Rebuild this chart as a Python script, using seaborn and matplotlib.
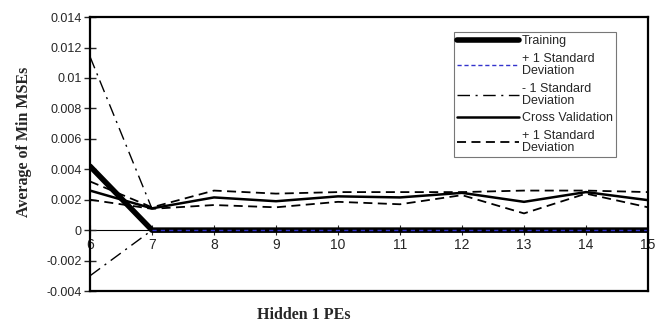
import numpy as np
import pandas as pd
import matplotlib
matplotlib.use("Agg")
import matplotlib.pyplot as plt
import seaborn as sns
from matplotlib.lines import Line2D

# Hidden 1 PEs
pes = [6, 7, 8, 9, 10, 11, 12, 13, 14, 15]

# Training and its +/- 1 std dev
training = [0.0042, 0, 0, 0, 0, 0, 0, 0, 0, 0]
train_plus = [np.nan, 0, 0, 0, 0, 0, 0, 0, 0, 0]
train_minus = [-0.0030, 0, 0, 0, 0, 0, 0, 0, 0, 0]
train_upper = [0.0114, 0.0014, np.nan, np.nan, np.nan, np.nan, np.nan, np.nan, np.nan, np.nan]

# Cross validation and its +/- 1 std dev
cv = [0.0026, 0.00143, 0.00215, 0.0019, 0.00222, 0.00215, 0.00245, 0.00186, 0.0025, 0.00197]
cv_plus = [0.0032, 0.0015, 0.0026, 0.0024, 0.0025, 0.0025, 0.0025, 0.0026, 0.0026, 0.0025]
cv_minus = [0.0020, 0.0014, 0.00165, 0.0015, 0.00186, 0.0017, 0.0023, 0.0011, 0.0024, 0.0015]

df = pd.DataFrame({"PEs": pes, "Training": training, "TrainPlus": train_plus,
                   "TrainMinus": train_minus, "TrainUpper": train_upper,
                   "CV": cv, "CVPlus": cv_plus, "CVMinus": cv_minus})

sns.set_style("white")
plt.rcParams["font.family"] = ["Liberation Sans", "DejaVu Sans"]

fig = plt.figure(figsize=(6.58, 3.29), dpi=100)
ax = fig.add_axes([0.1368, 0.1155, 0.8480, 0.8325])

dashdot = (0, (9, 4, 1.5, 4))
sns.lineplot(data=df, x="PEs", y="CVPlus", ax=ax, color="black", lw=1.3, linestyle=(0, (5, 3)))
sns.lineplot(data=df, x="PEs", y="CVMinus", ax=ax, color="black", lw=1.3, linestyle=(0, (5, 3)))
sns.lineplot(data=df, x="PEs", y="CV", ax=ax, color="black", lw=1.8)
sns.lineplot(data=df, x="PEs", y="TrainUpper", ax=ax, color="black", lw=1.0, linestyle=dashdot)
sns.lineplot(data=df, x="PEs", y="TrainMinus", ax=ax, color="black", lw=1.0, linestyle=dashdot)
sns.lineplot(data=df, x="PEs", y="Training", ax=ax, color="black", lw=4.0)
sns.lineplot(data=df, x="PEs", y="TrainPlus", ax=ax, color="#3333cc", lw=1.0, linestyle=(0, (3, 3)))

ax.set_xlim(6, 15)
ax.set_ylim(-0.004, 0.014)
ax.set_yticks(np.arange(-0.004, 0.0141, 0.002))
ax.set_yticklabels(["-0.004", "-0.002", "0", "0.002", "0.004", "0.006", "0.008", "0.01", "0.012", "0.014"])
ax.tick_params(axis="y", direction="inout", length=8, width=1, labelsize=9, left=True, pad=2)
ax.tick_params(axis="x", bottom=False, labelbottom=False)
for s in ax.spines.values():
    s.set_color("black")
    s.set_linewidth(1.6)

# x axis drawn along the zero line
zero_frac = (0 - (-0.004)) / 0.018
sec = ax.secondary_xaxis(zero_frac)
sec.set_xticks(pes)
sec.spines["bottom"].set_linewidth(0.8)
sec.spines["bottom"].set_color("black")
sec.tick_params(direction="inout", length=7, width=0.8, labelsize=10, pad=2)

ax.set_xlabel("")
ax.set_ylabel("")
fig.text(0.462, 0.042, "Hidden 1 PEs", family="Liberation Serif", fontweight="bold",
         fontsize=11.5, ha="center", va="center")
fig.text(0.036, 0.57, "Average of Min MSEs", family="Liberation Serif", fontweight="bold",
         fontsize=11.5, ha="center", va="center", rotation=90)

handles = [
    Line2D([], [], color="black", lw=4.0),
    Line2D([], [], color="#3333cc", lw=1.0, linestyle=(0, (3, 2))),
    Line2D([], [], color="black", lw=1.0, linestyle=dashdot),
    Line2D([], [], color="black", lw=1.8),
    Line2D([], [], color="black", lw=1.3, linestyle=(0, (5, 3))),
]
labels = ["Training", "+ 1 Standard\nDeviation", "- 1 Standard\nDeviation",
          "Cross Validation", "+ 1 Standard\nDeviation"]
leg = ax.legend(handles, labels, loc="upper left", bbox_to_anchor=(0.652, 0.945),
                fontsize=9, frameon=True, fancybox=False, handlelength=5.0,
                labelspacing=0.45, borderpad=0.25, handletextpad=0.2, borderaxespad=0)
leg.get_frame().set_edgecolor("#555555")
leg.get_frame().set_linewidth(0.8)
for t in leg.get_texts():
    t.set_linespacing(1.0)

fig.savefig("out.png", dpi=100)
